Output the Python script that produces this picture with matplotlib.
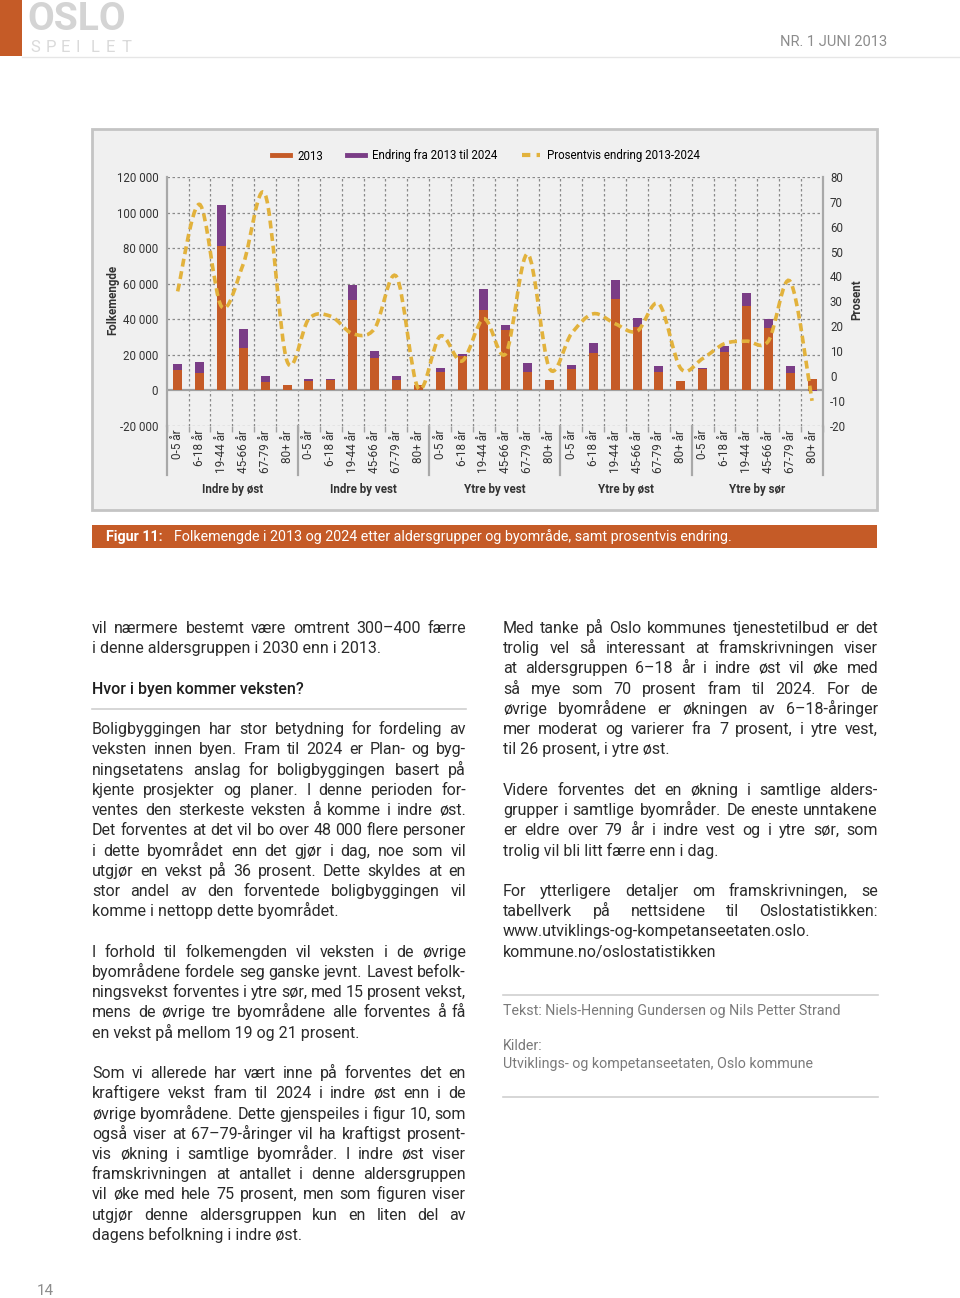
import numpy as np
import matplotlib
matplotlib.use("Agg")
import matplotlib.pyplot as plt
from matplotlib.path import Path
from matplotlib.patches import PathPatch, Rectangle
from matplotlib.lines import Line2D
import matplotlib.transforms as mtransforms

# data
omraader = ["Indre by øst", "Indre by vest", "Ytre by vest", "Ytre by øst", "Ytre by sør"]
aldre = ["0-5 år", "6-18 år", "19-44 år", "45-66 år", "67-79 år", "80+ år"]
folk_2013 = [11200, 9400, 81300, 23700, 4600, 2800,
             5200, 5600, 50500, 18100, 6000, 2700,
             10500, 19200, 44900, 33600, 10300, 5600,
             12000, 20900, 51400, 35500, 10300, 5000,
             11800, 21500, 47300, 35100, 9700, 6200]
endring = [3800, 6500, 23000, 10500, 3400, 150,
           1000, 900, 8900, 3900, 2000, -100,
           2000, 1100, 11900, 3200, 5000, 200,
           2000, 5600, 10800, 5200, 3200, 150,
           900, 3200, 7300, 5100, 3800, -600]
prosent = [34, 69, 28, 45, 73, 6,
           23, 24, 17, 19, 40, -5,
           16, 6, 23, 9, 49, 3,
           17, 25, 21, 18, 29, 3,
           7, 13, 14, 14, 38, -10]
venstre_ticks = [-20000, 0, 20000, 40000, 60000, 80000, 100000, 120000]
hoyre_ticks = [-20, -10, 0, 10, 20, 30, 40, 50, 60, 70, 80]

ORANSJE = "#c55b27"
LILLA = "#7a3d86"
GULL = "#e2b23c"
GRID = "#8a8a8a"
TEKST = "#2b2b2b"

W, H = 960, 1298
plt.rcParams['font.family'] = ['Roboto', 'DejaVu Sans']
SMAL = ['Roboto', 'DejaVu Sans']

fig = plt.figure(figsize=(W/100, H/100), dpi=100)
fig.patch.set_facecolor("white")

def fx(x):
    return x/W
def fy(y):
    return 1 - y/H

def rect(x0, y0, x1, y1, **kw):
    fig.patches.append(Rectangle((fx(x0), fy(y1)), (x1-x0)/W, (y1-y0)/H,
                                 transform=fig.transFigure, **kw))

def hline(x0, x1, y, color="#d0d0d0", lw=1.2):
    fig.add_artist(Line2D([fx(x0), fx(x1)], [fy(y), fy(y)], color=color, lw=lw,
                          transform=fig.transFigure))

# header
rect(0, 0, 22, 56, facecolor=ORANSJE, edgecolor="none")
hline(22, 960, 56.5, color="#e6e6e6", lw=1)
fig.text(fx(27), fy(19.5), "OSLO", fontsize=28, fontweight="bold", color="#d4d4d4",
         family=SMAL, va="center", ha="left")
for i, ch in enumerate("SPEILET"):
    fig.text(fx(30 + i*15.2), fy(48), ch, fontsize=12, color="#dadada",
             family=SMAL, va="center", ha="left")
fig.text(fx(887), fy(42), "NR. 1 JUNI 2013", fontsize=10.5, color="#8c8c8c",
         family=SMAL, va="center", ha="right")

# chart box
rect(92, 129, 877, 510, facecolor="#f0f0f0", edgecolor="#c4c4c4", lw=2, zorder=-5)

ax = fig.add_axes([fx(166.7), fy(425.7), 656.3/W, 248.7/H])
ax.set_facecolor("none")
n = len(folk_2013)
x = np.arange(n)
folk = np.array(folk_2013)
endr = np.array(endring)
ax.bar(x, folk, width=0.41, color=ORANSJE, zorder=3)
ax.bar(x, endr, width=0.41, bottom=np.where(endr > 0, folk, 0), color=LILLA, zorder=3)

ax.set_xlim(-0.5, n - 0.5)
ax.set_ylim(-20000, 120000)
for v in venstre_ticks:
    if v != 0:
        ax.axhline(v, color=GRID, lw=0.9, ls=(0, (2, 2)), zorder=1)
ax.axhline(0, color="#a0a0a0", lw=1.6, zorder=2)
for b in np.arange(0.5, n - 1, 1):
    ax.axvline(b, color=GRID, lw=0.9, ls=(0, (2, 2)), zorder=1)

ax.set_yticks(venstre_ticks)
ax.set_yticklabels([f"{v:,}".replace(",", " ") for v in venstre_ticks],
                   family=SMAL, fontsize=8.3, color="#333333")
ax.tick_params(axis="y", length=0, pad=6)
ax.set_xticks(np.arange(-0.5, n, 1))
ax.set_xticklabels([])
ax.tick_params(axis="x", which="major", length=4, color="#a0a0a0", width=1)
ax.set_xticks(x, minor=True)
ax.set_xticklabels(aldre * len(omraader), minor=True, rotation=90,
                   family=SMAL, fontsize=8.5, color="#333333")
ax.tick_params(axis="x", which="minor", length=0, pad=3)
for s in ["top", "bottom"]:
    ax.spines[s].set_visible(False)
for s in ["left", "right"]:
    ax.spines[s].set_color("#a8a8a8")
    ax.spines[s].set_linewidth(1.6)

trans = mtransforms.blended_transform_factory(ax.transData, ax.transAxes)
for g in range(len(omraader) + 1):
    ax.plot([g*6 - 0.5, g*6 - 0.5], [0, -0.2], color="#a8a8a8", lw=1.6,
            transform=trans, clip_on=False)
for g, navn in enumerate(omraader):
    ax.text(g*6 + 2.5, -0.258, navn, transform=trans, ha="center", va="center",
            family=SMAL, fontsize=8.3, fontweight="bold", color="#333333")

ax2 = ax.twinx()
ax2.set_ylim(-20, 80)
ax2.set_yticks(hoyre_ticks)
ax2.set_yticklabels([str(v) for v in hoyre_ticks], family=SMAL, fontsize=8.3,
                    color="#333333")
ax2.tick_params(axis="y", length=0, pad=5)
for s in ["top", "bottom", "left", "right"]:
    ax2.spines[s].set_visible(False)

# smooth line through the percent points (Catmull-Rom as bezier segments)
pts = np.column_stack([x, np.array(prosent, dtype=float)])
verts = [pts[0]]
codes = [Path.MOVETO]
for i in range(n - 1):
    p0 = pts[max(i - 1, 0)]
    p1 = pts[i]
    p2 = pts[i + 1]
    p3 = pts[min(i + 2, n - 1)]
    verts += [p1 + (p2 - p0)/6, p2 - (p3 - p1)/6, p2]
    codes += [Path.CURVE4]*3
ax2.add_patch(PathPatch(Path(verts, codes), fill=False, edgecolor=GULL, lw=2.6,
                        ls=(0, (2.2, 1.3)), zorder=4, capstyle="butt"))

fig.text(fx(113), fy(300), "Folkemengde", rotation=90, ha="center", va="center",
         family=SMAL, fontsize=8.3, fontweight="bold", color="#333333")
fig.text(fx(857), fy(300), "Prosent", rotation=90, ha="center", va="center",
         family=SMAL, fontsize=8.3, fontweight="bold", color="#333333")

handles = [Line2D([], [], color=ORANSJE, lw=3.5),
           Line2D([], [], color=LILLA, lw=3.5),
           Line2D([], [], color=GULL, lw=3, ls=(0, (2, 1.5)))]
fig.legend(handles, ["2013", "Endring fra 2013 til 2024", "Prosentvis endring 2013-2024"],
           loc="center", bbox_to_anchor=(fx(486), fy(156)), ncol=3, frameon=False,
           prop={"family": SMAL, "size": 8.3}, handlelength=1.6, columnspacing=2.1,
           handletextpad=0.6)

# caption bar
rect(92, 525, 877, 548, facecolor=ORANSJE, edgecolor="none")
fig.text(fx(106), fy(537), "Figur 11:", color="white", fontweight="bold", fontsize=10.3,
         family=SMAL, va="center", ha="left")
fig.text(fx(174), fy(537), "Folkemengde i 2013 og 2024 etter aldersgrupper og byområde, samt prosentvis endring.",
         color="white", fontsize=10.3, family=SMAL, va="center", ha="left")

# body text
renderer = fig.canvas.get_renderer()
BODY = 11.5
LH = 20.23
B0 = 633

def bredde(ord_, size):
    t = fig.text(0, 0, ord_, fontsize=size)
    w = t.get_window_extent(renderer=renderer).width
    t.remove()
    return w

def avsnitt(linjer, x0, x1, k0, size=BODY, color=TEKST, lh=LH, base=B0):
    for k, linje in enumerate(linjer):
        yb = base + (k0 + k)*lh
        ordene = linje.split(" ")
        if k == len(linjer) - 1 or len(ordene) < 2:
            fig.text(fx(x0), fy(yb), linje, fontsize=size, color=color, va="baseline")
            continue
        br = [bredde(o, size) for o in ordene]
        gap = max((x1 - x0 - sum(br)) / (len(ordene) - 1), 2.5)
        xx = x0
        for o, b in zip(ordene, br):
            fig.text(fx(xx), fy(yb), o, fontsize=size, color=color, va="baseline")
            xx += b + gap

L0, L1 = 92, 466
R0, R1 = 503, 878

avsnitt(["vil nærmere bestemt være omtrent 300–400 færre",
         "i denne aldersgruppen i 2030 enn i 2013."], L0, L1, 0)
fig.text(fx(L0), fy(B0 + 3*LH), "Hvor i byen kommer veksten?", fontsize=BODY,
         color="#1e1e1e", va="baseline", fontweight="medium")
hline(L0, L1, 709)
avsnitt(["Boligbyggingen har stor betydning for fordeling av",
         "veksten innen byen. Fram til 2024 er Plan- og byg-",
         "ningsetatens anslag for boligbyggingen basert på",
         "kjente prosjekter og planer. I denne perioden for-",
         "ventes den sterkeste veksten å komme i indre øst.",
         "Det forventes at det vil bo over 48 000 flere personer",
         "i dette byområdet enn det gjør i dag, noe som vil",
         "utgjør en vekst på 36 prosent. Dette skyldes at en",
         "stor andel av den forventede boligbyggingen vil",
         "komme i nettopp dette byområdet."], L0, L1, 5)
avsnitt(["I forhold til folkemengden vil veksten i de øvrige",
         "byområdene fordele seg ganske jevnt. Lavest befolk-",
         "ningsvekst forventes i ytre sør, med 15 prosent vekst,",
         "mens de øvrige tre byområdene alle forventes å få",
         "en vekst på mellom 19 og 21 prosent."], L0, L1, 16)
avsnitt(["Som vi allerede har vært inne på forventes det en",
         "kraftigere vekst fram til 2024 i indre øst enn i de",
         "øvrige byområdene. Dette gjenspeiles i figur 10, som",
         "også viser at 67–79-åringer vil ha kraftigst prosent-",
         "vis økning i samtlige byområder. I indre øst viser",
         "framskrivningen at antallet i denne aldersgruppen",
         "vil øke med hele 75 prosent, men som figuren viser",
         "utgjør denne aldersgruppen kun en liten del av",
         "dagens befolkning i indre øst."], L0, L1, 22)

avsnitt(["Med tanke på Oslo kommunes tjenestetilbud er det",
         "trolig vel så interessant at framskrivningen viser",
         "at aldersgruppen 6–18 år i indre øst vil øke med",
         "så mye som 70 prosent fram til 2024. For de",
         "øvrige byområdene er økningen av 6–18-åringer",
         "mer moderat og varierer fra 7 prosent, i ytre vest,",
         "til 26 prosent, i ytre øst."], R0, R1, 0)
avsnitt(["Videre forventes det en økning i samtlige alders-",
         "grupper i samtlige byområder. De eneste unntakene",
         "er eldre over 79 år i indre vest og i ytre sør, som",
         "trolig vil bli litt færre enn i dag."], R0, R1, 8)
avsnitt(["For ytterligere detaljer om framskrivningen, se",
         "tabellverk på nettsidene til Oslostatistikken:",
         "www.utviklings-og-kompetanseetaten.oslo.",
         "kommune.no/oslostatistikken"], R0, R1, 13)

hline(R0, R1, 995)
fig.text(fx(R0), fy(1015), "Tekst: Niels-Henning Gundersen og Nils Petter Strand",
         fontsize=10.3, color="#7a7a7a", va="baseline")
fig.text(fx(R0), fy(1050), "Kilder:", fontsize=10.3, color="#7a7a7a", va="baseline")
fig.text(fx(R0), fy(1068), "Utviklings- og kompetanseetaten, Oslo kommune",
         fontsize=10.3, color="#7a7a7a", va="baseline")
hline(R0, R1, 1097)

fig.text(fx(37), fy(1291), "14", fontsize=11, color="#8c8c8c", va="center", ha="left")

fig.savefig("out.png", dpi=100, facecolor="white")
